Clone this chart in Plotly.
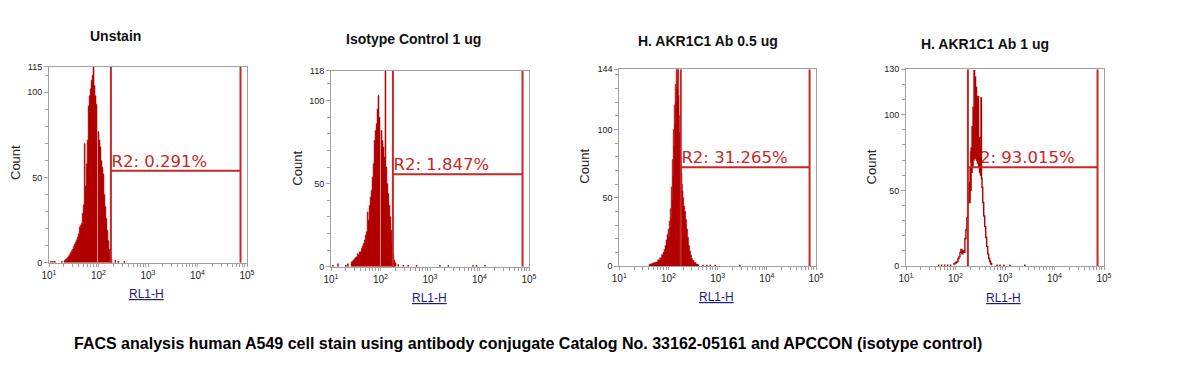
import plotly.graph_objects as go

# page body has an 8px margin: figure is sized to fit the window exactly
OFF = 8
W, H = 1180 - OFF, 369 - OFF

# ---------------- data ----------------
panel_titles = ["Unstain", "Isotype Control 1 ug", "H. AKR1C1 Ab 0.5 ug", "H. AKR1C1 Ab 1 ug"]
region_labels = ["R2: 0.291%", "R2: 1.847%", "R2: 31.265%", "R2: 93.015%"]
y_max = [115, 118, 144, 130]
gate_low = [178, 178, 178, 178]
gate_high = [74000, 74000, 74000, 74000]
gate_level = [54, 55.6, 72.3, 65.2]
x_axis_label = "RL1-H"
y_axis_label = "Count"
decade_vals = [10, 100, 1000, 10000, 100000]
decade_labels = ["10<sup>1</sup>", "10<sup>2</sup>", "10<sup>3</sup>", "10<sup>4</sup>", "10<sup>5</sup>"]
caption = "FACS analysis human A549 cell stain using antibody conjugate Catalog No. 33162-05161 and APCCON (isotype control)"

# histogram channels (log10 of RL1-H) and counts
p1_log = [1.30, 1.32, 1.34, 1.36, 1.38, 1.40, 1.42, 1.44, 1.46, 1.48,
          1.50, 1.52, 1.54, 1.56, 1.58, 1.60, 1.62, 1.64, 1.66, 1.68,
          1.70, 1.72, 1.74, 1.76, 1.78, 1.80, 1.82, 1.84, 1.86, 1.88,
          1.90, 1.92, 1.94, 1.96, 1.98, 2.00, 2.02, 2.04, 2.06, 2.08,
          2.10, 2.12, 2.14, 2.16, 2.18, 2.20, 2.22, 2.24, 2.26, 2.28]
p1_count = [1, 1.5, 2, 2.5, 3, 4, 5, 6, 7, 8,
            9.5, 11, 12, 13.5, 15, 17, 21, 22, 23, 29,
            34, 70, 45, 58, 72, 92, 98, 102, 107, 110,
            115, 104, 98, 93, 0, 77, 72, 68, 60, 56,
            52, 40, 33, 26, 19, 13, 8, 4, 2, 1]
p1_stray_log = [1.04, 1.08, 1.12, 1.26, 2.34, 2.40, 2.52]
p1_stray_count = [1, 1, 1, 1, 1.5, 1, 1]

p2_log = [1.40, 1.42, 1.44, 1.46, 1.48, 1.50, 1.52, 1.54, 1.56, 1.58,
          1.60, 1.62, 1.64, 1.66, 1.68, 1.70, 1.72, 1.74, 1.76, 1.78,
          1.80, 1.82, 1.84, 1.86, 1.88, 1.90, 1.92, 1.94, 1.96, 1.98,
          2.00, 2.02, 2.04, 2.06, 2.08, 2.10, 2.12, 2.14, 2.16, 2.18,
          2.20, 2.22, 2.24, 2.26, 2.28, 2.30, 2.32]
p2_count = [2, 3, 3.5, 4, 5, 5.5, 6, 8, 7, 9,
            9, 11, 12.5, 14, 16, 19, 21, 33, 28, 37,
            42, 46, 54, 62, 76, 82, 86, 95, 103, 90,
            0, 82, 76, 72, 66, 118, 60, 50, 44, 37,
            30, 22, 14, 8, 4, 2.5, 1.5]
p2_stray_log = [1.04, 1.14, 1.30, 1.34, 2.36, 2.46, 2.56, 2.73, 3.20, 3.37, 3.87, 3.94, 4.11]
p2_stray_count = [1, 2, 1, 2, 1.5, 1, 1, 1, 1, 1, 1, 1, 1]

p3_log = [1.60, 1.64, 1.68, 1.72, 1.76, 1.80, 1.84, 1.88, 1.90, 1.92,
          1.94, 1.96, 1.98, 2.00, 2.01, 2.02, 2.03, 2.04, 2.05, 2.06,
          2.07, 2.08, 2.09, 2.10, 2.11, 2.12, 2.13, 2.14, 2.15, 2.16,
          2.17, 2.18, 2.19, 2.20, 2.21, 2.22, 2.23, 2.24, 2.25, 2.26,
          2.27, 2.28, 2.29, 2.30, 2.32, 2.34, 2.36, 2.38, 2.40, 2.42,
          2.44, 2.46, 2.48, 2.50, 2.54, 2.58, 2.62]
p3_count = [1, 1.5, 2, 2.5, 3, 4.5, 6, 8.5, 10, 12,
            15, 19, 23, 27, 21, 33, 28, 42, 35, 58,
            48, 78, 66, 100, 88, 118, 104, 133, 120, 144,
            130, 144, 136, 144, 125, 110, 98, 86, 80, 74,
            68, 60, 55, 50, 44, 40, 34, 27, 21, 15,
            11, 8, 5.5, 4, 2.5, 1.5, 1]
p3_stray_log = [2.70, 2.78, 2.85, 2.95, 3.45]
p3_stray_count = [1, 1, 1, 1, 1]

p4_log = [1.96, 1.98, 2.00, 2.02, 2.04, 2.06, 2.08, 2.10, 2.12, 2.14,
          2.16, 2.18, 2.20, 2.22, 2.24, 2.26, 2.28, 2.29, 2.30, 2.31,
          2.32, 2.33, 2.34, 2.35, 2.36, 2.37, 2.38, 2.39, 2.40, 2.41,
          2.42, 2.43, 2.44, 2.45, 2.46, 2.47, 2.48, 2.49, 2.50, 2.51,
          2.52, 2.53, 2.54, 2.56, 2.58, 2.60, 2.62, 2.64, 2.66, 2.68,
          2.70, 2.72, 2.74]
p4_count = [1, 1.5, 2, 2.5, 3, 5, 6, 9, 11, 8,
            10, 9, 18, 24, 32, 42, 55, 42, 65, 50,
            78, 62, 92, 66, 105, 70, 129, 72, 125, 75,
            118, 70, 110, 68, 112, 66, 85, 62, 78, 60,
            111, 58, 52, 42, 33, 26, 19, 13, 8, 5,
            3, 1.5, 1]
p4_stray_log = [1.66, 1.72, 1.78, 1.84, 1.90, 2.84, 2.90, 2.98, 3.10, 3.40]
p4_stray_count = [1, 1, 1, 1, 1, 1, 1, 1, 1, 1]

hist_log = [p1_log, p2_log, p3_log, p4_log]
hist_count = [p1_count, p2_count, p3_count, p4_count]
stray_log = [p1_stray_log, p2_stray_log, p3_stray_log, p4_stray_log]
stray_count = [p1_stray_count, p2_stray_count, p3_stray_count, p4_stray_count]
hist_filled = [True, True, True, False]

# ---------------- layout geometry (window pixels) ----------------
plot_boxes = [(49, 247, 66.7, 262.7), (331, 529, 70.7, 266.7),
              (619.3, 816, 69.3, 266), (906, 1104, 69.3, 266)]
title_pos = [(115.5, 36), (413, 39), (708, 40.7), (985, 44.3)]
count_pos = [(15, 163), (296.7, 168), (585, 166.7), (871.7, 166.7)]
xlab_pos = [(146.5, 294), (429, 298), (716.7, 297.3), (1003.7, 297.7)]

HIST = "#B00000"
GATE = "#C62828"
AXIS = "#A0A0A0"
FONT = "Liberation Sans, Arial, sans-serif"

def px(x):
    return (x - OFF) / W

def py(y):
    return 1 - (y - OFF) / H

x_minor = []
for d in decade_vals[:-1]:
    for m in range(2, 10):
        x_minor.append(d * m)

fig = go.Figure()
annotations = []
layout = {}

for i in range(4):
    n = "" if i == 0 else str(i + 1)
    xa, ya = "x" + n, "y" + n
    xs = [10 ** v for v in hist_log[i]]
    # region label (under the histogram)
    fig.add_trace(go.Scatter(
        x=[gate_low[i] * 1.03], y=[gate_level[i]], mode="text",
        text=[region_labels[i]], textposition="top right",
        textfont=dict(family="DejaVu Sans, Verdana, sans-serif", size=16.5, color=GATE),
        xaxis=xa, yaxis=ya, showlegend=False, hoverinfo="skip"))
    # histogram
    if hist_filled[i]:
        fig.add_trace(go.Scatter(
            x=xs, y=hist_count[i], mode="lines", line=dict(color=HIST, width=0.5, shape="hvh"),
            fill="tozeroy", fillcolor=HIST, xaxis=xa, yaxis=ya, showlegend=False))
    else:
        fig.add_trace(go.Scatter(
            x=xs, y=hist_count[i], mode="lines", line=dict(color=HIST, width=1.4, shape="hvh"),
            xaxis=xa, yaxis=ya, showlegend=False))
    # stray events
    sx, sy = [], []
    for v, c in zip(stray_log[i], stray_count[i]):
        sx += [10 ** v, 10 ** v, None]
        sy += [0, c, None]
    fig.add_trace(go.Scatter(x=sx, y=sy, mode="lines", line=dict(color=HIST, width=1.5),
                             xaxis=xa, yaxis=ya, showlegend=False))
    # gate
    g1, g2, top = gate_low[i], gate_high[i], y_max[i]
    fig.add_trace(go.Scatter(
        x=[g1, g1, None, g2, g2, None, g1, g2],
        y=[0, top, None, 0, top, None, gate_level[i], gate_level[i]],
        mode="lines", line=dict(color=GATE, width=2), xaxis=xa, yaxis=ya, showlegend=False))

    x0, x1, y0, y1 = plot_boxes[i]
    layout["xaxis" + n] = dict(
        type="log", range=[1, 5], domain=[px(x0), px(x1)], anchor=ya, automargin=False,
        showline=True, linecolor=AXIS, linewidth=1, mirror=True,
        ticks="outside", ticklen=3, tickcolor=AXIS,
        tickmode="array", tickvals=decade_vals, ticktext=decade_labels,
        minor=dict(tickmode="array", tickvals=x_minor, ticks="outside", ticklen=3,
                   tickcolor=AXIS, showgrid=False),
        tickfont=dict(family=FONT, size=10, color="#222222"),
        showgrid=False, zeroline=False)
    yt = [0, 50, 100, top]
    layout["yaxis" + n] = dict(
        range=[0, top], domain=[py(y1), py(y0)], anchor=xa, automargin=False,
        showline=True, linecolor=AXIS, linewidth=1, mirror=True,
        ticks="outside", ticklen=4, tickcolor=AXIS,
        tickmode="array", tickvals=yt, ticktext=[str(v) for v in yt],
        minor=dict(dtick=10, tick0=0, ticks="outside", ticklen=3, tickcolor=AXIS, showgrid=False),
        tickfont=dict(family=FONT, size=9, color="#222222"),
        showgrid=False, zeroline=False)

    annotations.append(dict(text="<b>" + panel_titles[i] + "</b>", x=px(title_pos[i][0]), y=py(title_pos[i][1]),
                            xref="paper", yref="paper", showarrow=False, xanchor="center", yanchor="middle",
                            font=dict(family=FONT, size=14, color="#111111")))
    annotations.append(dict(text=y_axis_label, x=px(count_pos[i][0]), y=py(count_pos[i][1]), textangle=-90,
                            xref="paper", yref="paper", showarrow=False, xanchor="center", yanchor="middle",
                            font=dict(family=FONT, size=13, color="#222222")))
    annotations.append(dict(text="<u>" + x_axis_label + "</u>", x=px(xlab_pos[i][0]), y=py(xlab_pos[i][1]),
                            xref="paper", yref="paper", showarrow=False, xanchor="center", yanchor="middle",
                            font=dict(family=FONT, size=12, color="#1C1C80")))

annotations.append(dict(text="<b>" + caption + "</b>", x=px(528), y=py(343), xref="paper", yref="paper",
                        showarrow=False, xanchor="center", yanchor="middle",
                        font=dict(family=FONT, size=16, color="#000000")))

fig.update_layout(
    width=W, height=H, margin=dict(l=0, r=0, t=0, b=0, pad=0, autoexpand=False),
    paper_bgcolor="white", plot_bgcolor="white",
    showlegend=False, annotations=annotations, **layout)

fig.write_html("out.html")
